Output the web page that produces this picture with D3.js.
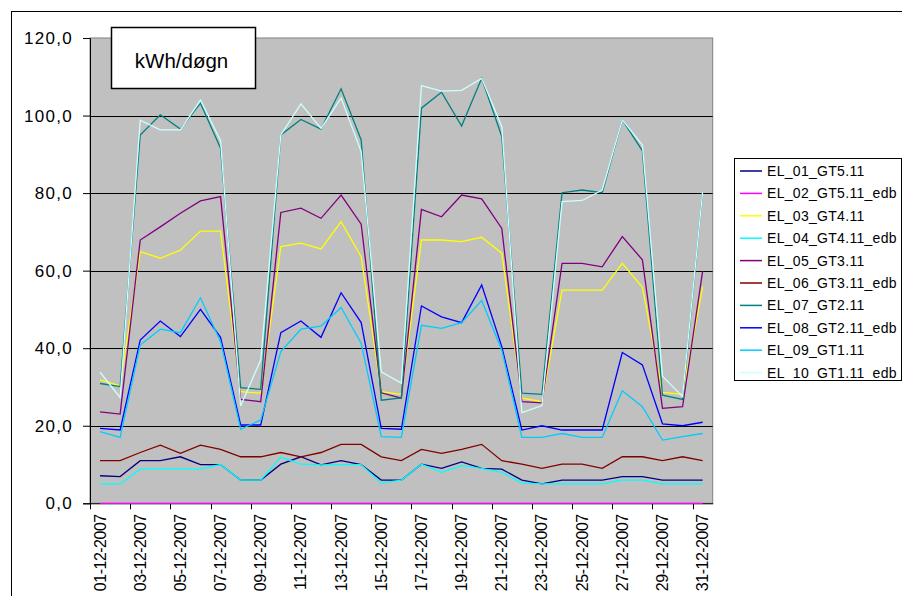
<!DOCTYPE html>
<html><head><meta charset="utf-8">
<script src="https://cdn.jsdelivr.net/npm/d3@7"></script>
<style>body{margin:0;background:#fff}svg{display:block}</style>
</head><body><div id="chart"></div>
<script>
const dates = ["01-12-2007","02-12-2007","03-12-2007","04-12-2007","05-12-2007","06-12-2007","07-12-2007","08-12-2007","09-12-2007","10-12-2007","11-12-2007","12-12-2007","13-12-2007","14-12-2007","15-12-2007","16-12-2007","17-12-2007","18-12-2007","19-12-2007","20-12-2007","21-12-2007","22-12-2007","23-12-2007","24-12-2007","25-12-2007","26-12-2007","27-12-2007","28-12-2007","29-12-2007","30-12-2007","31-12-2007"];
const seriesNames = ["EL_01_GT5.11","EL_02_GT5.11_edb","EL_03_GT4.11","EL_04_GT4.11_edb","EL_05_GT3.11","EL_06_GT3.11_edb","EL_07_GT2.11","EL_08_GT2.11_edb","EL_09_GT1.11","EL_10_GT1.11_edb"];
const seriesColors = ["#000080","#FF00FF","#FFFF00","#00FFFF","#800080","#800000","#008080","#0000FF","#00CCFF","#CCFFFF"];
const el01 = [7.1,6.9,11.0,11.0,12.0,10.0,10.0,6.0,6.0,10.1,12.0,9.9,11.0,10.0,6.0,6.0,10.1,9.0,10.7,9.0,8.8,6.0,5.0,6.0,6.0,6.0,6.9,6.9,6.0,6.0,6.0];
const el02 = [0,0,0,0,0,0,0,0,0,0,0,0,0,0,0,0,0,0,0,0,0,0,0,0,0,0,0,0,0,0,0];
const el03 = [31.8,30.3,64.9,63.2,65.3,70.2,70.2,28.8,28.4,66.2,67.1,65.6,72.6,63.6,28.8,28.1,67.9,67.9,67.5,68.6,64.5,27.1,26.2,55.0,55.0,55.0,61.9,55.7,28.6,28.1,55.9];
const el04 = [5.0,5.0,8.8,8.8,8.8,8.8,10.0,6.0,6.0,11.9,10.1,9.9,10.0,10.0,5.2,6.0,10.1,8.0,9.7,9.0,8.0,5.2,5.0,5.0,5.0,5.0,6.0,6.0,5.0,5.0,5.0];
const el05 = [23.6,23.0,67.9,71.3,74.8,78.0,79.1,26.8,26.2,75.0,76.1,73.5,79.5,72.0,28.5,27.1,75.8,73.9,79.5,78.5,70.9,26.2,25.9,61.9,61.9,61.0,68.8,62.8,24.5,24.9,59.9];
const el06 = [11.0,11.0,13.1,15.0,12.9,15.0,13.9,12.0,12.0,13.1,12.0,13.1,15.2,15.2,12.0,11.0,13.9,12.9,13.9,15.2,11.0,10.1,9.0,10.1,10.1,9.0,12.0,12.0,11.0,12.0,11.0];
const el07 = [30.9,30.1,95.0,100.2,96.5,103.2,91.6,29.8,29.4,95.0,99.0,96.5,106.9,93.7,26.6,27.2,101.9,106.0,97.3,109.6,94.6,28.4,28.1,80.1,80.8,80.1,98.9,90.9,27.9,26.8,80.4];
const el08 = [19.3,18.9,42.1,47.0,43.0,50.0,42.8,20.2,20.2,44.0,47.0,42.8,54.3,46.6,19.3,19.1,50.9,48.1,46.6,56.3,40.4,18.9,20.0,18.9,18.9,18.9,38.9,35.7,20.5,20.0,20.9];
const el09 = [18.5,17.0,40.8,44.9,44.0,53.0,41.7,19.1,21.5,39.1,44.9,45.7,50.5,41.3,17.2,17.0,45.9,45.1,46.6,52.3,39.5,17.0,17.0,18.0,17.0,17.0,29.0,24.9,16.3,17.2,18.0];
const el10 = [33.8,27.3,98.8,96.3,96.3,104.0,93.5,25.1,37.0,95.0,103.0,96.7,104.5,90.7,33.9,31.0,107.7,106.3,106.5,109.6,97.2,23.4,25.2,77.8,78.1,80.8,98.9,92.4,32.8,27.5,80.4];
const yTicks = [0,20,40,60,80,100,120];
const titleText = "kWh/døgn";

const seriesValues = [el01,el02,el03,el04,el05,el06,el07,el08,el09,el10];

const W = 902, H = 596;
const svg = d3.select("#chart").append("svg").attr("width", W).attr("height", H);
svg.append("rect").attr("width", W).attr("height", H).attr("fill", "#fff");
svg.append("rect").attr("x", 11.5).attr("y", 11.5).attr("width", 1000).attr("height", 1000)
  .attr("fill", "none").attr("stroke", "#000").attr("stroke-width", 1);

const pLeft = 90, pRight = 712.7, pTop = 38, pBottom = 503.3;
const x = d3.scaleBand().domain(dates).range([pLeft, pRight]).padding(0);
const y = d3.scaleLinear().domain([0, 120]).range([pBottom, pTop]);

svg.append("rect").attr("x", pLeft).attr("y", pTop).attr("width", pRight - pLeft).attr("height", pBottom - pTop)
  .attr("fill", "#C0C0C0").attr("stroke", "#808080").attr("stroke-width", 1);

svg.append("g").selectAll("line").data(yTicks.filter(d => d > 0 && d < 120)).join("line")
  .attr("x1", pLeft).attr("x2", pRight)
  .attr("y1", d => Math.round(y(d)) + 0.5).attr("y2", d => Math.round(y(d)) + 0.5)
  .attr("stroke", "#000").attr("stroke-width", 1);

const yAxis = d3.axisLeft(y).tickValues(yTicks).tickSize(7).tickPadding(10)
  .tickFormat(d => d3.format(".1f")(d).replace(".", ","));
const gy = svg.append("g").attr("transform", `translate(${pLeft},0)`).call(yAxis);
gy.select(".domain").attr("stroke", "#000");
gy.selectAll(".tick line").attr("stroke", "#000");
gy.selectAll("text").attr("font-family", "Liberation Sans, Arial, sans-serif")
  .attr("font-size", 17).attr("letter-spacing", "1.3px").attr("fill", "#000");

const xAxis = d3.axisBottom(x).tickValues(dates.filter((d, i) => i % 2 === 0)).tickSize(0).tickPadding(0);
const gx = svg.append("g").attr("transform", `translate(0,${pBottom})`).call(xAxis);
gx.select(".domain").attr("stroke", "#000");
gx.selectAll(".tick line").remove();
gx.selectAll(".tick text")
  .attr("font-family", "Liberation Sans, Arial, sans-serif").attr("font-size", 16)
  .attr("letter-spacing", "-0.5px").attr("fill", "#000")
  .attr("text-anchor", "end").attr("dy", null).attr("y", 0).attr("x", 0)
  .attr("dominant-baseline", "central")
  .attr("transform", "translate(0,11) rotate(-90)");
const bw = x.bandwidth();
svg.append("g").selectAll("line").data(dates.filter((d, i) => i % 2 === 0)).join("line")
  .attr("x1", d => Math.round(x(d)) + 0.5).attr("x2", d => Math.round(x(d)) + 0.5)
  .attr("y1", pBottom).attr("y2", pBottom + 6).attr("stroke", "#000");

const line = d3.line().x((d, i) => x(dates[i]) + bw / 2).y(d => y(d));
svg.append("g").selectAll("path").data(seriesValues).join("path")
  .attr("d", d => line(d)).attr("fill", "none")
  .attr("stroke", (d, i) => seriesColors[i]).attr("stroke-width", 1.3)
  .attr("stroke-linejoin", "miter");

svg.append("rect").attr("x", 111.5).attr("y", 27.5).attr("width", 144).attr("height", 61)
  .attr("fill", "#fff").attr("stroke", "#000").attr("stroke-width", 1.5);
svg.append("text").attr("x", 181.5).attr("y", 67.5).attr("text-anchor", "middle")
  .attr("font-family", "Liberation Sans, Arial, sans-serif").attr("font-size", 20.5)
  .attr("fill", "#000").text(titleText);

const lg = svg.append("g");
lg.append("rect").attr("x", 734.5).attr("y", 158.5).attr("width", 167).attr("height", 222)
  .attr("fill", "#fff").attr("stroke", "#000").attr("stroke-width", 1);
const items = lg.selectAll("g.item").data(seriesNames).join("g").attr("class", "item")
  .attr("transform", (d, i) => `translate(0,${171 + i * 22.4})`);
items.append("line").attr("x1", 740).attr("x2", 762).attr("y1", 0).attr("y2", 0)
  .attr("stroke", (d, i) => seriesColors[i]).attr("stroke-width", 1.5);
items.append("text").attr("x", 767).attr("y", 0).attr("dy", "0.36em")
  .attr("font-family", "Liberation Sans, Arial, sans-serif").attr("font-size", 14)
  .attr("letter-spacing", "0.3px").attr("fill", "#000").text(d => d);
</script></body></html>
